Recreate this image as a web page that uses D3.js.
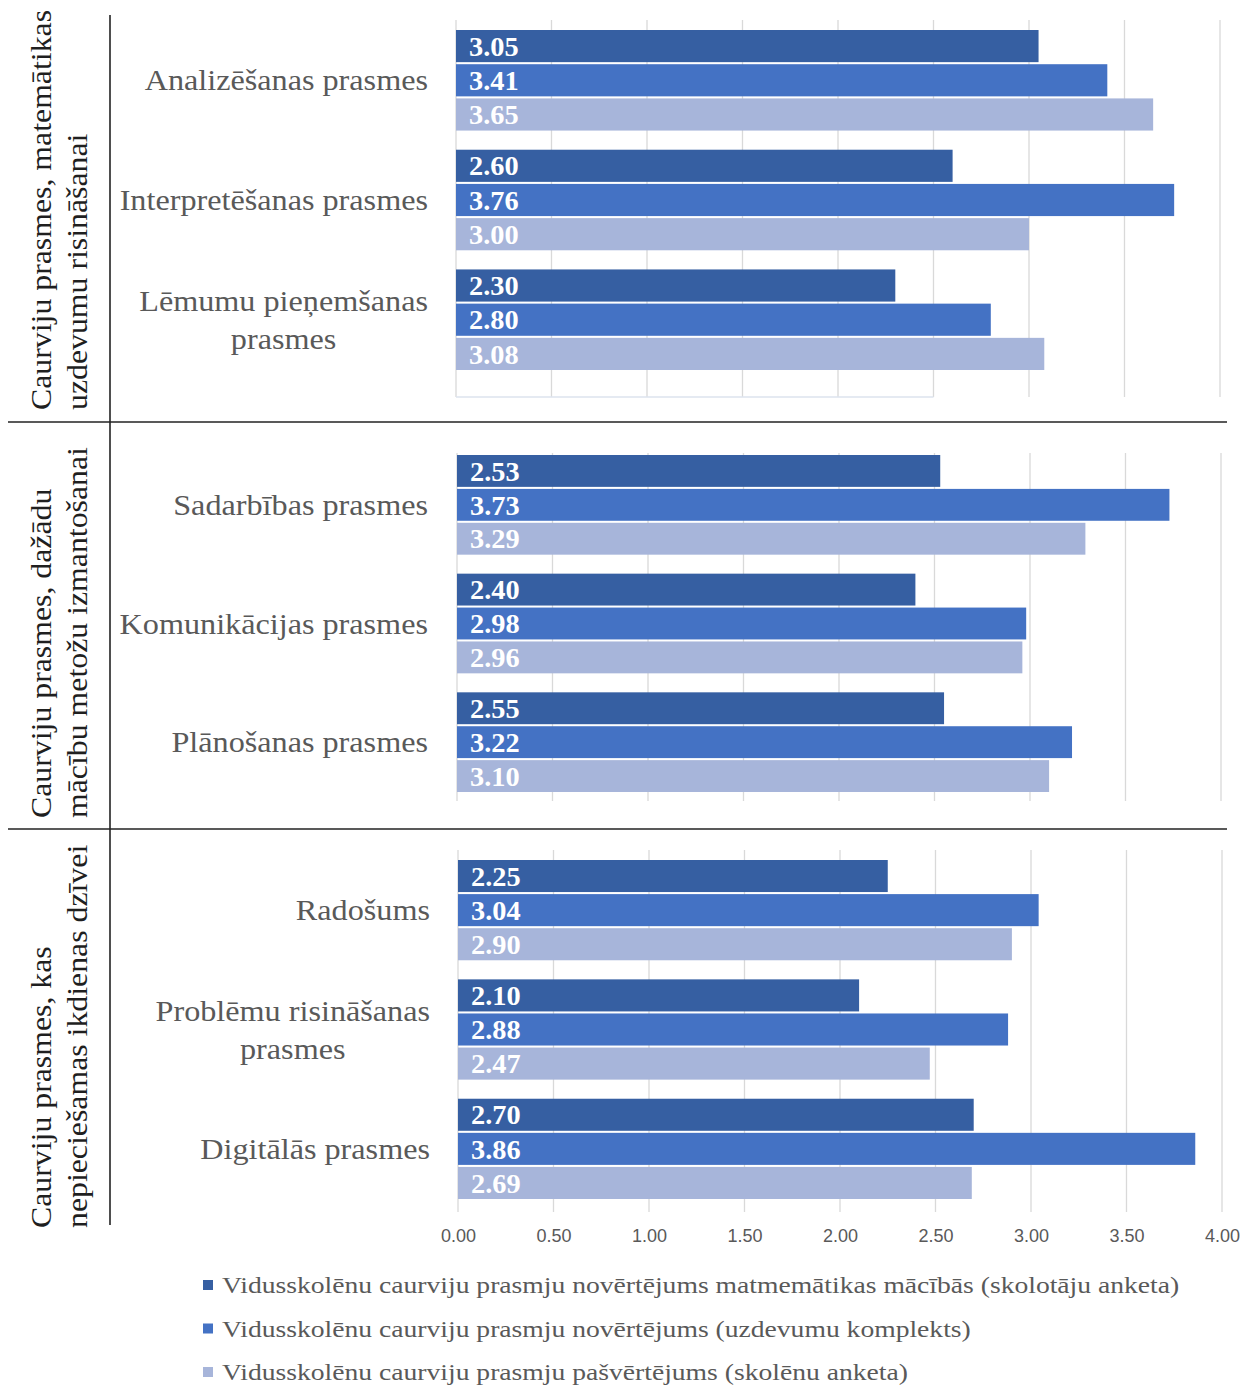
<!DOCTYPE html>
<html><head><meta charset="utf-8">
<script src="https://cdn.jsdelivr.net/npm/d3@7"></script>
<style>html,body{margin:0;padding:0;background:#fff}</style>
</head><body>
<svg id="chart" width="1243" height="1387"></svg>
<script>
// ---- data ----
const groupLabels = [
  ["Caurviju prasmes, matemātikas", "uzdevumu risināšanai"],
  ["Caurviju prasmes, dažādu", "mācību metožu izmantošanai"],
  ["Caurviju prasmes, kas", "nepieciešamas ikdienas dzīvei"]
];
const categories = [
  "Analizēšanas prasmes", "Interpretēšanas prasmes", "Lēmumu pieņemšanas prasmes",
  "Sadarbības prasmes", "Komunikācijas prasmes", "Plānošanas prasmes",
  "Radošums", "Problēmu risināšanas prasmes", "Digitālās prasmes"
];
const categoryLines = [
  ["Analizēšanas prasmes"], ["Interpretēšanas prasmes"], ["Lēmumu pieņemšanas", "prasmes"],
  ["Sadarbības prasmes"], ["Komunikācijas prasmes"], ["Plānošanas prasmes"],
  ["Radošums"], ["Problēmu risināšanas", "prasmes"], ["Digitālās prasmes"]
];
const categoryGroup = [0, 0, 0, 1, 1, 1, 2, 2, 2];
const seriesNames = [
  "Vidusskolēnu caurviju prasmju novērtējums matmemātikas mācībās (skolotāju anketa)",
  "Vidusskolēnu caurviju prasmju novērtējums (uzdevumu komplekts)",
  "Vidusskolēnu caurviju prasmju pašvērtējums (skolēnu anketa)"
];
const teacherValues = [3.05, 2.60, 2.30, 2.53, 2.40, 2.55, 2.25, 2.10, 2.70];
const taskValues    = [3.41, 3.76, 2.80, 3.73, 2.98, 3.22, 3.04, 2.88, 3.86];
const selfValues    = [3.65, 3.00, 3.08, 3.29, 2.96, 3.10, 2.90, 2.47, 2.69];
const xTicks = [0, 0.5, 1, 1.5, 2, 2.5, 3, 3.5, 4];

// ---- layout ----
const colors = ["#365fa2", "#4472c4", "#a7b5da"];
const seriesValues = [teacherValues, taskValues, selfValues];
const panels = [
  {grid: [20, 397], bars: [30, 370], x0: 456, x1: 1220, labelX: 428, divider: 422, labelStart: 410, axisLine: true},
  {grid: [453, 801], bars: [455, 792], x0: 457, x1: 1221, labelX: 428, divider: 829, labelStart: 818},
  {grid: [850, 1212], bars: [860, 1199], x0: 458, x1: 1222, labelX: 430, divider: null, labelStart: 1228, tickLabels: true}
];
const serif = "'Liberation Serif','Times New Roman',serif";

function stretch(sel, f) {
  sel.each(function () {
    const w = this.getComputedTextLength();
    d3.select(this).attr("textLength", w * f).attr("lengthAdjust", "spacingAndGlyphs");
  });
}

const svg = d3.select("#chart");

panels.forEach((p, gi) => {
  const x = d3.scaleLinear().domain([0, 4]).range([p.x0, p.x1]);
  const cats = categories.filter((c, i) => categoryGroup[i] === gi);
  const y = d3.scaleBand().domain(cats).range(p.bars).paddingInner(0.16).paddingOuter(0);
  const ySub = d3.scaleBand().domain([0, 1, 2]).range([0, y.bandwidth()]).paddingInner(0.06);
  const g = svg.append("g");

  // gridlines
  g.selectAll("line.grid").data(xTicks).join("line")
    .attr("x1", d => x(d)).attr("x2", d => x(d))
    .attr("y1", p.grid[0]).attr("y2", p.grid[1])
    .attr("stroke", "#d9d9d9").attr("stroke-width", 1.3);

  if (p.axisLine) {
    g.append("line").attr("x1", x(0)).attr("x2", x(2.5))
      .attr("y1", p.grid[1]).attr("y2", p.grid[1])
      .attr("stroke", "#dde3ee").attr("stroke-width", 1.3);
  }

  if (p.tickLabels) {
    const axis = d3.axisBottom(x).tickValues(xTicks).tickFormat(d3.format(".2f")).tickSize(0).tickPadding(17);
    const ag = g.append("g").attr("transform", `translate(0,${p.grid[1]})`).call(axis);
    ag.select(".domain").remove();
    ag.selectAll("text").attr("font-family", "'Liberation Sans',Arial,sans-serif")
      .attr("font-size", 18).attr("fill", "#595959");
  }

  // bars
  cats.forEach(cat => {
    const ci = categories.indexOf(cat);
    const cg = g.append("g").attr("transform", `translate(0,${y(cat)})`);
    seriesValues.forEach((vals, si) => {
      const v = vals[ci];
      cg.append("rect")
        .attr("x", x(0)).attr("y", ySub(si))
        .attr("width", x(v) - x(0)).attr("height", ySub.bandwidth())
        .attr("fill", colors[si]);
      const vt = cg.append("text")
        .attr("x", x(0) + 13).attr("y", ySub(si) + ySub.bandwidth() / 2)
        .attr("dy", "0.36em")
        .attr("font-family", serif).attr("font-weight", "bold").attr("font-size", 27)
        .attr("fill", "#fff").text(d3.format(".2f")(v));
      stretch(vt, 1.05);
    });
    // category label
    const lines = categoryLines[ci];
    const cy = y(cat) + y.bandwidth() / 2;
    const lh = 38;
    let firstBox = null;
    lines.forEach((ln, li) => {
      const ty = cy + (li - (lines.length - 1) / 2) * lh;
      const text = g.append("text")
        .attr("x", p.labelX).attr("y", ty).attr("dy", "0.35em")
        .attr("text-anchor", "end")
        .attr("font-family", serif).attr("font-size", 29).attr("fill", "#595959")
        .text(ln);
      stretch(text, 1.11);
      if (li === 0) {
        firstBox = text.node().getBBox();
      } else {
        text.attr("text-anchor", "middle").attr("x", firstBox.x + firstBox.width / 2);
      }
    });
  });

  // group label (rotated)
  groupLabels[gi].forEach((ln, li) => {
    const t = svg.append("text")
      .attr("transform", `translate(${li === 0 ? 51 : 87},${p.labelStart}) rotate(-90)`)
      .attr("font-family", serif).attr("font-size", 30).attr("fill", "#1f1f1f")
      .text(ln);
    stretch(t, 1.06);
  });

  if (p.divider) {
    svg.append("line").attr("x1", 8).attr("x2", 1227)
      .attr("y1", p.divider).attr("y2", p.divider)
      .attr("stroke", "#222").attr("stroke-width", 1.6);
  }
});

// vertical divider
svg.append("line").attr("x1", 110).attr("x2", 110).attr("y1", 15).attr("y2", 1225)
  .attr("stroke", "#222").attr("stroke-width", 1.6);

// legend
const legend = svg.append("g");
seriesNames.forEach((name, i) => {
  const ly = 1285 + i * 43.5;
  legend.append("rect").attr("x", 203).attr("y", ly - 5).attr("width", 10).attr("height", 10).attr("fill", colors[i]);
  const lt = legend.append("text").attr("x", 222).attr("y", ly).attr("dy", "0.35em")
    .attr("font-family", serif).attr("font-size", 24).attr("fill", "#595959").text(name);
  stretch(lt, 1.15);
});
</script>
</body></html>
